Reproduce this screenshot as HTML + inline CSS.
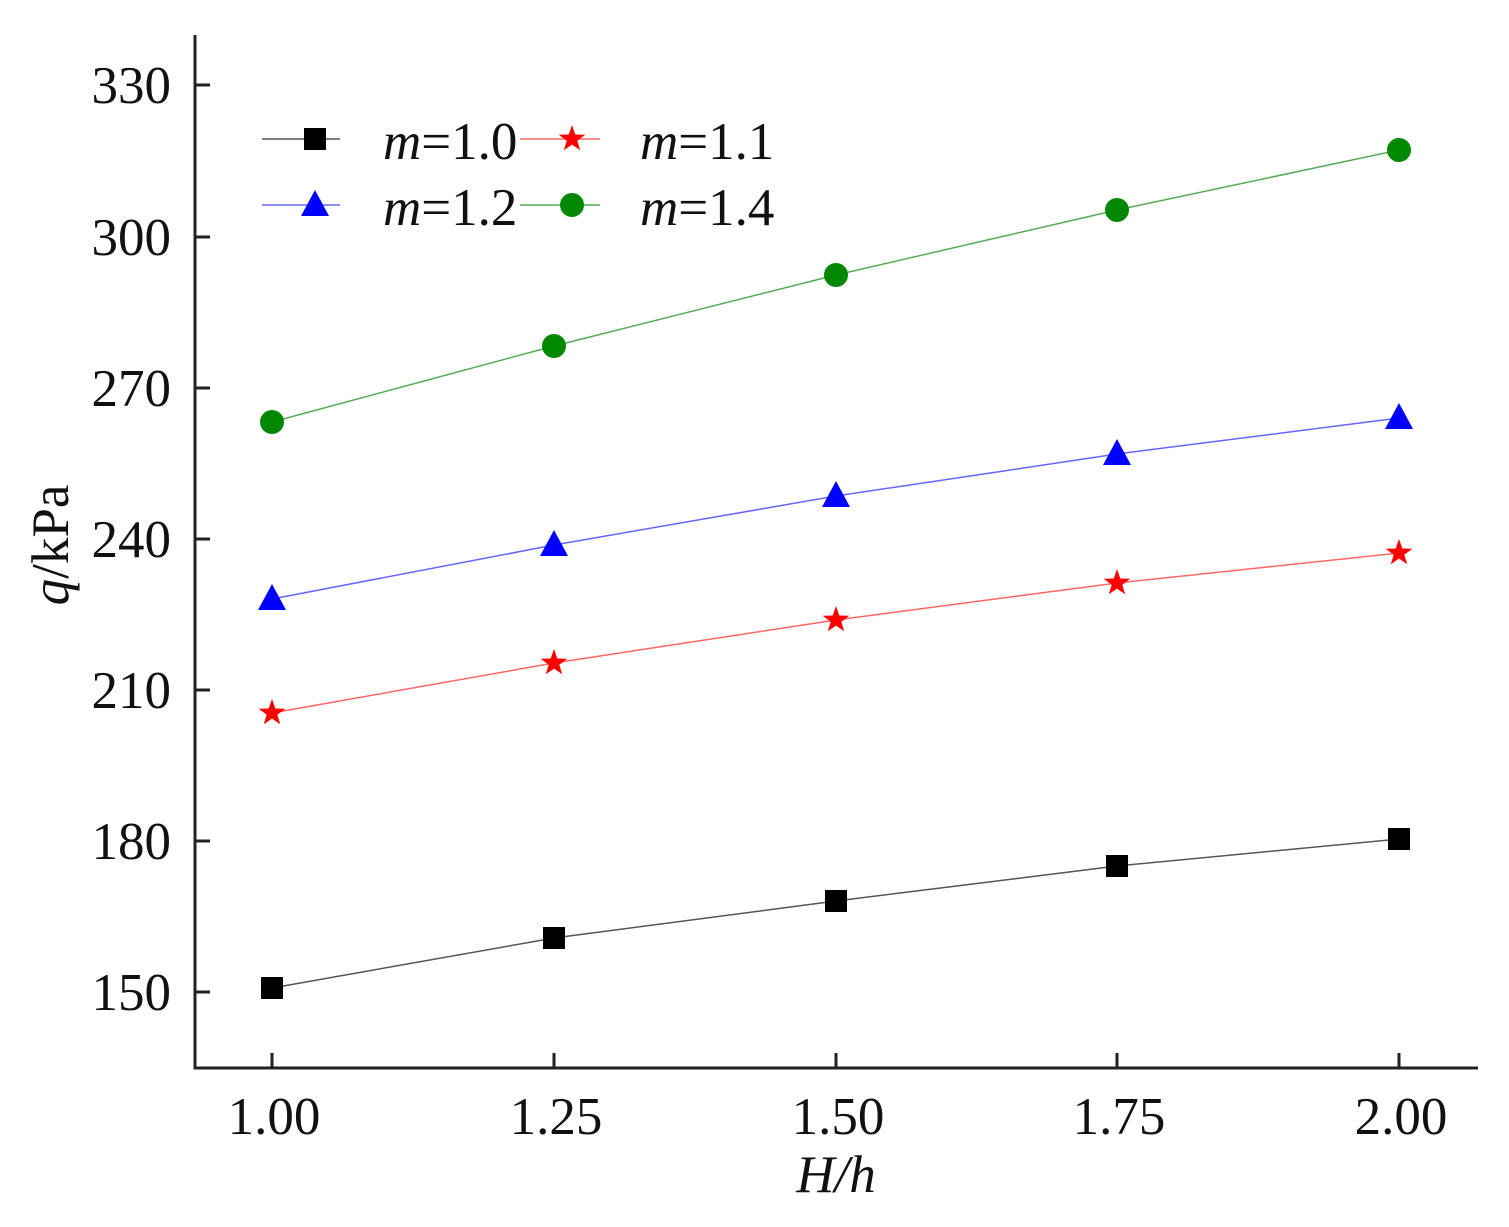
<!DOCTYPE html>
<html><head><style>body{margin:0;background:#fff}</style></head><body>
<svg width="1509" height="1222" viewBox="0 0 1509 1222" xmlns="http://www.w3.org/2000/svg" font-family="Liberation Serif, serif">
<rect width="1509" height="1222" fill="#fff"/>
<g stroke="#222" stroke-width="3" fill="none">
<path d="M195 35 V1068 H1478"/>
<path d="M195 85h15M195 237h15M195 388h15M195 539h15M195 690h15M195 841h15M195 992h15"/>
<path d="M272 1068v-15M554 1068v-15M836 1068v-15M1117 1068v-15M1399 1068v-15"/>
</g>
<g font-size="53" fill="#111" text-anchor="end">
<text x="171" y="103">330</text><text x="171" y="255">300</text><text x="171" y="406">270</text>
<text x="171" y="557">240</text><text x="171" y="708">210</text><text x="171" y="859">180</text><text x="171" y="1010">150</text>
</g>
<g font-size="53" fill="#111" text-anchor="middle">
<text x="274" y="1134">1.00</text><text x="556" y="1134">1.25</text><text x="838" y="1134">1.50</text><text x="1119" y="1134">1.75</text><text x="1401" y="1134">2.00</text>
<text x="836" y="1192" font-style="italic">H/h</text>
</g>
<text transform="translate(68,545) rotate(-90)" font-size="53" text-anchor="middle" fill="#111"><tspan font-style="italic">q</tspan>/kPa</text>
<polyline points="272,988 554,938 836,901 1117,866 1399,839" fill="none" stroke="#555" stroke-width="1.5"/>
<polyline points="272,713 554,663 836,620 1117,583 1399,553" fill="none" stroke="#f66" stroke-width="1.5"/>
<polyline points="272,599 554,545 836,496 1117,454 1399,418" fill="none" stroke="#66f" stroke-width="1.5"/>
<polyline points="272,422 554,346 836,275 1117,210 1399,150" fill="none" stroke="#5a5" stroke-width="1.5"/>
<defs>
<rect id="sq" x="-11" y="-11" width="22" height="22" fill="#000"/>
<polygon id="st" points="0,-14 3.3,-4.5 13.3,-4.3 5.3,1.7 8.2,11.3 0,5.6 -8.2,11.3 -5.3,1.7 -13.3,-4.3 -3.3,-4.5" fill="#f00"/>
<polygon id="tr" points="0,-15 14,11 -14,11" fill="#00f"/>
<circle id="ci" r="12" fill="#080"/>
</defs>
<use href="#sq" x="272" y="988"/><use href="#sq" x="554" y="938"/><use href="#sq" x="836" y="901"/><use href="#sq" x="1117" y="866"/><use href="#sq" x="1399" y="839"/>
<use href="#st" x="272" y="713"/><use href="#st" x="554" y="663"/><use href="#st" x="836" y="620"/><use href="#st" x="1117" y="583"/><use href="#st" x="1399" y="553"/>
<use href="#tr" x="272" y="599"/><use href="#tr" x="554" y="545"/><use href="#tr" x="836" y="496"/><use href="#tr" x="1117" y="454"/><use href="#tr" x="1399" y="418"/>
<use href="#ci" x="272" y="422"/><use href="#ci" x="554" y="346"/><use href="#ci" x="836" y="275"/><use href="#ci" x="1117" y="210"/><use href="#ci" x="1399" y="150"/>
<line x1="262" y1="139" x2="340" y2="139" stroke="#555" stroke-width="1.5"/><use href="#sq" x="315" y="139"/>
<line x1="520" y1="139" x2="600" y2="139" stroke="#f66" stroke-width="1.5"/><use href="#st" x="572" y="139"/>
<line x1="262" y1="205" x2="340" y2="205" stroke="#66f" stroke-width="1.5"/><use href="#tr" x="315" y="205"/>
<line x1="520" y1="205" x2="600" y2="205" stroke="#5a5" stroke-width="1.5"/><use href="#ci" x="572" y="205"/>
<g font-size="53" fill="#111">
<text x="383" y="159"><tspan font-style="italic">m</tspan>=1.0</text>
<text x="640" y="159"><tspan font-style="italic">m</tspan>=1.1</text>
<text x="383" y="225"><tspan font-style="italic">m</tspan>=1.2</text>
<text x="640" y="225"><tspan font-style="italic">m</tspan>=1.4</text>
</g>
</svg>
</body></html>
